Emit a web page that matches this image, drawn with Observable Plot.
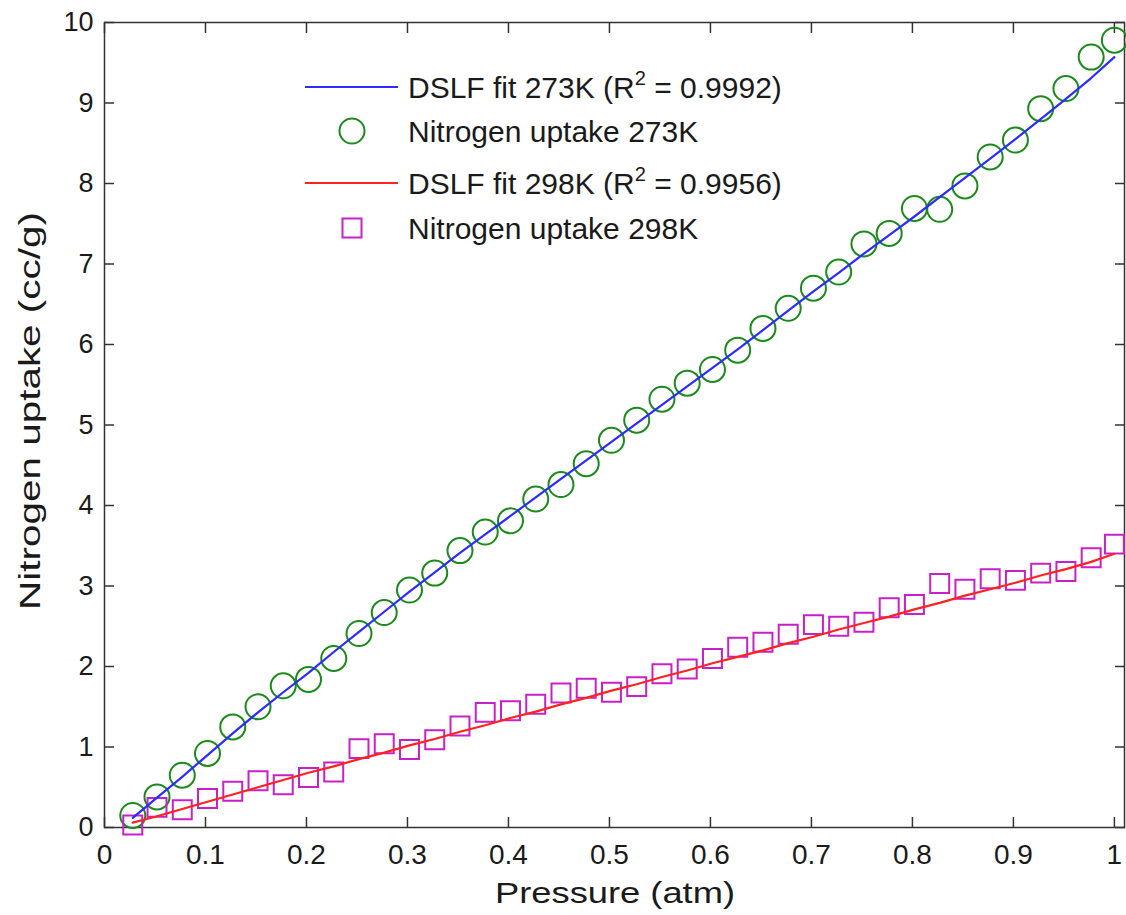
<!DOCTYPE html>
<html><head><meta charset="utf-8">
<script src="https://cdn.jsdelivr.net/npm/d3@7"></script>
<script src="https://cdn.jsdelivr.net/npm/@observablehq/plot@0.6"></script>
<style>
body{margin:0;background:#fff;}
#wrap{position:relative;width:1126px;height:915px;font-family:"Liberation Sans",Arial,sans-serif;color:#1a1a1a;}
#legend{position:absolute;left:0;top:0;pointer-events:none;}
.title{position:absolute;left:0;top:0;font-size:30px;line-height:30px;white-space:nowrap;transform-origin:0 0;}
</style></head><body><div id="wrap"></div>
<script>
// Pressure (atm) sample points
const pressure = [0.028,0.052,0.077,0.102,0.127,0.152,0.177,0.202,0.227,0.252,0.277,0.302,0.327,0.352,0.377,0.402,0.427,0.452,0.477,0.502,0.527,0.552,0.577,0.602,0.627,0.652,0.677,0.702,0.727,0.752,0.777,0.802,0.827,0.852,0.877,0.902,0.927,0.952,0.977,1.0];
// Nitrogen uptake 273K (cc/g)
const uptake273 = [0.15,0.38,0.65,0.92,1.25,1.5,1.76,1.84,2.1,2.41,2.67,2.95,3.16,3.44,3.67,3.81,4.08,4.26,4.52,4.81,5.06,5.32,5.52,5.69,5.93,6.2,6.45,6.7,6.9,7.25,7.38,7.69,7.68,7.97,8.33,8.54,8.93,9.18,9.57,9.78];
// DSLF fit 273K
const fit273 = [0.12,0.37,0.63,0.90,1.17,1.43,1.68,1.92,2.18,2.43,2.68,2.93,3.17,3.41,3.64,3.87,4.10,4.33,4.56,4.79,5.02,5.25,5.48,5.71,5.94,6.18,6.42,6.66,6.89,7.13,7.36,7.59,7.83,8.07,8.31,8.55,8.80,9.05,9.31,9.57];
// Nitrogen uptake 298K (cc/g)
const uptake298 = [0.03,0.25,0.22,0.36,0.45,0.58,0.53,0.62,0.69,0.98,1.04,0.97,1.09,1.26,1.43,1.45,1.53,1.67,1.73,1.68,1.75,1.91,1.97,2.10,2.24,2.30,2.40,2.52,2.50,2.55,2.73,2.77,3.03,2.96,3.09,3.07,3.16,3.18,3.35,3.52];
// DSLF fit 298K
const fit298 = [0.06,0.14,0.23,0.32,0.41,0.50,0.59,0.68,0.76,0.85,0.93,1.02,1.10,1.19,1.27,1.36,1.44,1.53,1.61,1.70,1.78,1.87,1.95,2.04,2.12,2.20,2.29,2.37,2.46,2.54,2.62,2.71,2.79,2.88,2.96,3.04,3.13,3.21,3.30,3.40];
const xTicks = [0,0.1,0.2,0.3,0.4,0.5,0.6,0.7,0.8,0.9,1];
const yTicks = [0,1,2,3,4,5,6,7,8,9,10];
const xLabel = "Pressure (atm)";
const yLabel = "Nitrogen uptake (cc/g)";
const legendLabels = ["DSLF fit 273K (R", "Nitrogen uptake 273K", "DSLF fit 298K (R", "Nitrogen uptake 298K"];
const legendR2 = ["0.9992", null, "0.9956", null];

const BLUE = "#2b2bff", GREEN = "#1a8a1a", RED = "#ff2222", MAGENTA = "#c820c8", INK = "#1a1a1a", AX = "#333";

const rows273 = pressure.map((p, i) => ({p, v: uptake273[i], f: fit273[i]}));
const rows298 = pressure.map((p, i) => ({p, v: uptake298[i], f: fit298[i]}));

const tickOpts = {tickFormat: () => "", label: null, stroke: AX, strokeWidth: 1.5, tickSize: 10};

const chart = Plot.plot({
  width: 1126, height: 915,
  marginLeft: 104, marginRight: 2, marginTop: 22, marginBottom: 88,
  style: {fontFamily: '"Liberation Sans", Arial, sans-serif', color: INK, background: "#fff", overflow: "visible"},
  x: {domain: [0, 1.01]},
  y: {domain: [0, 10]},
  marks: [
    Plot.axisX(xTicks, {anchor: "bottom", tickSize: 0, tickPadding: 17, fontSize: 28, tickFormat: d => String(d), label: null}),
    Plot.axisX(xTicks, {...tickOpts, anchor: "bottom", dy: -10}),
    Plot.axisX(xTicks, {...tickOpts, anchor: "top", dy: 10}),
    Plot.axisY(yTicks, {anchor: "left", tickSize: 0, tickPadding: 11, fontSize: 27, tickFormat: d => String(d), label: null}),
    Plot.axisY(yTicks, {...tickOpts, anchor: "left", dx: 10}),
    Plot.axisY(yTicks, {...tickOpts, anchor: "right", dx: -10}),
    Plot.frame({stroke: AX, strokeWidth: 1.5}),
    Plot.dot(rows273, {x: "p", y: "v", r: 12.5, stroke: GREEN, strokeWidth: 2}),
    Plot.dot(rows298, {x: "p", y: "v", r: 10.7, symbol: "square", stroke: MAGENTA, strokeWidth: 2}),
    Plot.line(rows273, {x: "p", y: "f", stroke: BLUE, strokeWidth: 2.2}),
    Plot.line(rows298, {x: "p", y: "f", stroke: RED, strokeWidth: 2.2})
  ]
});

const wrap = document.getElementById("wrap");
wrap.appendChild(chart);

// Axis titles (HTML text, stretched along reading direction like the reference)
function addTitle(text, cx, cy, targetLen, rotate) {
  const el = document.createElement("div");
  el.className = "title";
  el.textContent = text;
  wrap.appendChild(el);
  const w = el.getBoundingClientRect().width, h = el.getBoundingClientRect().height;
  const k = targetLen / w;
  el.style.transform = `translate(${cx}px,${cy}px) rotate(${rotate}deg) scale(${k},1) translate(${-w / 2}px,${-h / 2}px)`;
}
addTitle(xLabel, 615, 893, 240, 0);
addTitle(yLabel, 30, 411, 398, -90);

// Legend overlay
const leg = d3.select(wrap).append("svg").attr("id", "legend").attr("width", 1126).attr("height", 915)
  .style("font-family", '"Liberation Sans", Arial, sans-serif');
const rowsY = [87, 131, 183, 228];
const kinds = ["line", "circle", "line", "square"];
const colors = [BLUE, GREEN, RED, MAGENTA];
rowsY.forEach((cy, i) => {
  if (kinds[i] === "line") {
    leg.append("line").attr("x1", 305).attr("x2", 398).attr("y1", cy).attr("y2", cy)
      .attr("stroke", colors[i]).attr("stroke-width", 2.2);
  } else if (kinds[i] === "circle") {
    leg.append("circle").attr("cx", 352).attr("cy", cy).attr("r", 12.5)
      .attr("fill", "none").attr("stroke", colors[i]).attr("stroke-width", 2);
  } else {
    leg.append("rect").attr("x", 352 - 9.5).attr("y", cy - 9.5).attr("width", 19).attr("height", 19)
      .attr("fill", "none").attr("stroke", colors[i]).attr("stroke-width", 2);
  }
  const t = leg.append("text").attr("x", 408).attr("y", cy + 11).attr("font-size", 30).attr("fill", INK);
  t.append("tspan").text(legendLabels[i]);
  if (legendR2[i]) {
    t.append("tspan").attr("dy", -13).attr("font-size", 20).text("2");
    t.append("tspan").attr("dy", 13).text(" = " + legendR2[i] + ")");
  }
});
</script></body></html>
